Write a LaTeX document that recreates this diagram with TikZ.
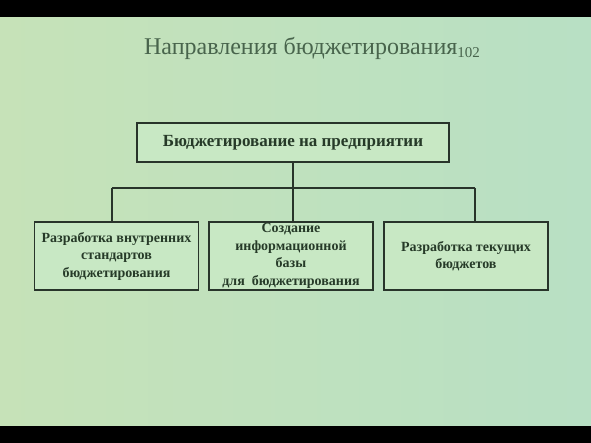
\documentclass[tikz,border=0pt]{standalone}
\usepackage{fontspec}
\setmainfont{Liberation Serif}
\usetikzlibrary{positioning}
\definecolor{bgleft}{RGB}{198,226,184}
\definecolor{bgright}{RGB}{184,224,196}
\definecolor{boxgreen}{RGB}{200,232,196}
\definecolor{edgegray}{RGB}{40,52,42}
\definecolor{inkgreen}{RGB}{38,58,40}
\definecolor{titlegreen}{RGB}{72,100,76}

\begin{document}
\begin{tikzpicture}[x=1pt,y=-1pt,line width=1.6pt,
  top box/.style={rectangle,draw=edgegray,fill=boxgreen,text=inkgreen,
    minimum width=312pt,minimum height=39pt,inner sep=0pt,
    font=\fontsize{17}{20}\selectfont\bfseries},
  sub box/.style={rectangle,draw=edgegray,fill=boxgreen,text=inkgreen,
    minimum width=164pt,minimum height=68pt,inner sep=0pt,align=center,
    font=\fontsize{14}{17.5}\selectfont\bfseries}]

  % background and black bands
  \useasboundingbox (0,0) rectangle (591,443);
  \shade[left color=bgleft,right color=bgright] (0,0) rectangle (591,443);
  \fill[black] (0,0) rectangle (591,17);
  \fill[black] (0,426) rectangle (591,443);

  \node[text=titlegreen,font=\fontsize{24}{28}\selectfont,anchor=base west] (title) at (140,55)
    {Направления бюджетирования{\fontsize{15}{18}\selectfont\raisebox{-3pt}{102}}};

  \node[top box] (top) at (293,142.5) {Бюджетирование на предприятии};
  \node[sub box] (left) at (116.5,256) {Разработка внутренних\\стандартов\\бюджетирования};
  \node[sub box] (mid) at (291,256) {Создание\\информационной\\базы\\для\ \ бюджетирования};
  \node[sub box] (right) at (466,256) {Разработка текущих\\бюджетов};

  \coordinate (jl) at (112,188);
  \coordinate (jr) at (475,188);

  \path[draw=edgegray]
    (top.south) edge (top.south |- mid.north)
    (jl) edge (jr)
    (jl) edge (jl |- left.north)
    (jr) edge (jr |- right.north);
\end{tikzpicture}
\end{document}
